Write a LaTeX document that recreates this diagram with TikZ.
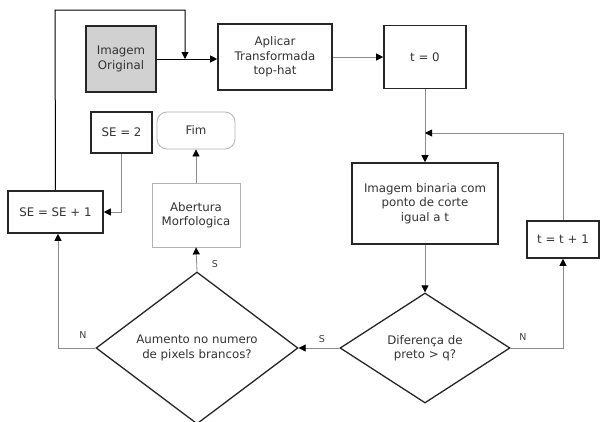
\documentclass[tikz,border=0pt]{standalone}
\usepackage{fontspec}
\setmainfont{DejaVu Sans}
\usetikzlibrary{shapes.geometric,arrows.meta}
\begin{document}
\begin{tikzpicture}[x=1pt,y=-1pt,
  txt/.style={font=\fontsize{11.8}{14.5}\selectfont, text=black!80, align=center, inner sep=0pt},
  thickbox/.style={txt, draw=black!85, line width=1.6pt},
  thinbox/.style={txt, draw=black!30, line width=0.8pt},
  decision/.style={txt, diamond, draw=black!85, line width=1.3pt},
  tip/.style={-{Triangle[length=7pt,width=7pt,color=black]}},
  flow/.style={draw=black!45, line width=0.8pt, tip},
  mainflow/.style={draw=black, line width=1pt, tip},
  lbl/.style={font=\fontsize{9.5}{11}\selectfont, text=black!75}
]
\clip (0,0) rectangle (600,421);
\fill[white] (0,0) rectangle (600,421);

% process boxes
\node[thickbox, fill=black!18, minimum width=70pt, minimum height=66pt] (orig) at (121,59) {Imagem\\Original};
\node[thickbox, minimum width=114pt, minimum height=66pt] (aplicar) at (275,57) {Aplicar\\Transformada\\top-hat};
\node[thickbox, minimum width=82pt, minimum height=63pt] (t0) at (425,57) {t = 0};
\node[thickbox, minimum width=146pt, minimum height=81pt] (bin) at (425,203.5) {Imagem binaria com\\ponto de corte\\igual a t};
\node[thickbox, minimum width=72pt, minimum height=37pt] (tinc) at (563,239.5) {t = t + 1};
\node[thickbox, minimum width=61pt, minimum height=41pt] (se2) at (121.5,132.5) {SE = 2};
\node[thickbox, minimum width=95pt, minimum height=42pt] (seinc) at (55.5,212) {SE = SE + 1};
\node[thinbox, minimum width=88pt, minimum height=64pt] (abert) at (196,215) {Abertura\\Morfologica};
\node[thinbox, rounded corners=10pt, minimum width=78pt, minimum height=37pt] (fim) at (196,130.5) {Fim};

% decisions
\node[decision, minimum width=170pt, minimum height=110pt] (dif) at (425,348) {Diferença de\\preto > q?};
\node[decision, minimum width=202pt, minimum height=152pt] (aum) at (197,348) {Aumento no numero\\de pixels brancos?};

% junction points
\coordinate (j1) at (185,59);
\coordinate (j2) at (425,133);

% main line
\draw[mainflow] (orig.east) -- (orig.east -| aplicar.west);
\draw[flow] (aplicar.east) -- (t0.west);
\draw[mainflow] (seinc.north) -- (55,10) -| (j1);

% threshold loop
\draw[flow] (t0.south) -- (bin.north);
\draw[flow] (tinc.north) |- (j2);
\draw[flow] (bin.south) -- (dif.north);
\draw[flow] (dif.east) -| (tinc.south);
\draw[flow] (dif.west) -- (aum.east);

% structuring element loop
\draw[flow] (aum.west) -| ([xshift=2.5pt]seinc.south);
\draw[flow] (se2.south) |- (seinc.east);
\draw[flow] (aum.north) -- (abert.south);
\draw[flow] (abert.north) -- (fim.south);

% branch labels
\node[lbl] (ls1) at (322,339) {S};
\node[lbl] (ln1) at (523,337) {N};
\node[lbl] (ls2) at (215,264) {S};
\node[lbl] (ln2) at (83,335) {N};
\end{tikzpicture}
\end{document}
